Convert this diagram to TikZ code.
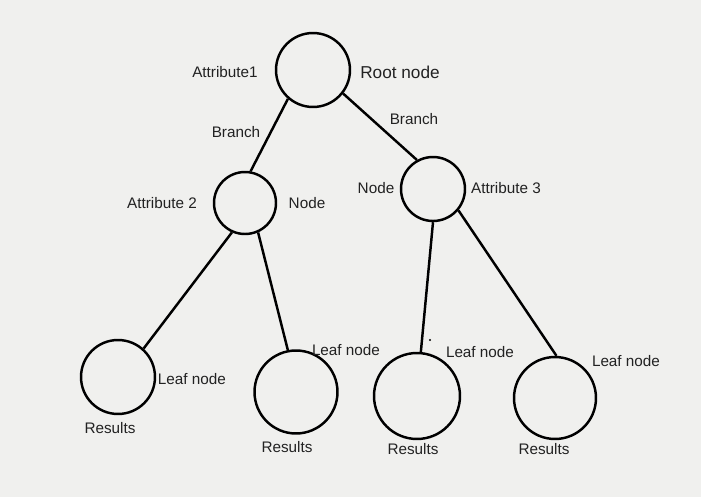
\documentclass[tikz,border=0pt]{standalone}
\usepackage{fontspec}
\setmainfont{Liberation Sans}
\definecolor{bgcol}{HTML}{F0F0EE}
\definecolor{txtcol}{HTML}{222222}
\begin{document}
\begin{tikzpicture}[x=0.02cm,y=-0.02cm,
  tnode/.style={circle,draw=black,line width=1.4pt,inner sep=0pt},
  lbl/.style={text=txtcol,font=\fontsize{8.7}{10}\selectfont,inner sep=0pt},
  edge/.style={line width=1.4pt,draw=black}]
\fill[bgcol] (0,0) rectangle (701,497);
\useasboundingbox (0,0) rectangle (701,497);
% tree nodes
\node[tnode,minimum size=1.48cm] (root) at (313,70) {};
\node[tnode,minimum size=1.24cm] (n2) at (245,203) {};
\node[tnode,minimum size=1.28cm] (n3) at (433,189) {};
\node[tnode,minimum size=1.48cm] (l1) at (118,377) {};
\node[tnode,minimum size=1.66cm] (l2) at (296,392) {};
\node[tnode,minimum size=1.72cm] (l3) at (417,396) {};
\node[tnode,minimum size=1.64cm] (l4) at (555,398) {};
% connectors
\draw[edge] (root.229) -- (n2.80);
\draw[edge] (root.322) -- (n3.119);
\draw[edge] (n2.246) -- (l1.48);
\draw[edge] (n2.294) -- (l2.101);
\draw[edge] (n3.270) -- (l3.85);
\draw[edge] (n3.320) -- (l4.88);
\fill[black] (430,340) circle (0.7pt);
% labels
\node[lbl] (tattr1) at (225,72) {Attribute1};
\node[lbl,font=\fontsize{9.8}{11}\selectfont] (troot) at (400,72) {Root node};
\node[lbl] (tbr1) at (236,132) {Branch};
\node[lbl] (tbr2) at (414,119) {Branch};
\node[lbl] (tattr2) at (162,203) {Attribute 2};
\node[lbl] (tnode2) at (307,203) {Node};
\node[lbl] (tnode3) at (376,188) {Node};
\node[lbl] (tattr3) at (506,188) {Attribute 3};
\node[lbl] (tleaf1) at (192,379) {Leaf node};
\node[lbl] (tleaf2) at (346,350) {Leaf node};
\node[lbl] (tleaf3) at (480,352) {Leaf node};
\node[lbl] (tleaf4) at (626,361) {Leaf node};
\node[lbl] (tres1) at (110,428) {Results};
\node[lbl] (tres2) at (287,447) {Results};
\node[lbl] (tres3) at (413,449) {Results};
\node[lbl] (tres4) at (544,449) {Results};
\end{tikzpicture}
\end{document}
